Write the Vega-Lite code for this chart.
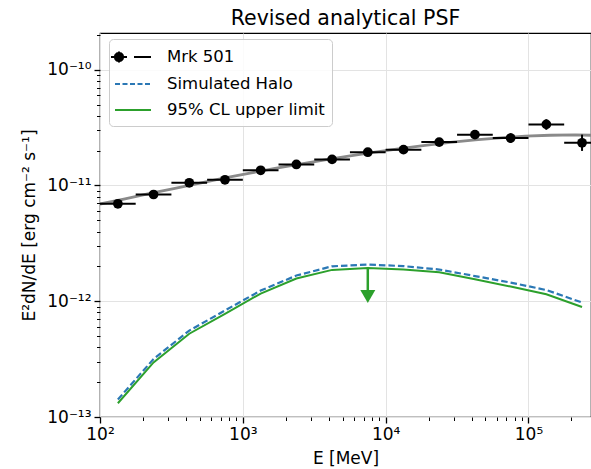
{
  "$schema": "https://vega.github.io/schema/vega-lite/v6.json",
  "autosize": "none",
  "width": 491,
  "height": 384,
  "padding": {"left": 100, "top": 33, "right": 0, "bottom": 52},
  "background": "white",
  "title": {"text": "Revised analytical PSF", "font": "DejaVu Sans", "fontSize": 20.5, "fontWeight": "normal", "color": "black", "anchor": "middle", "baseline": "bottom", "offset": 2, "dy": 26},
  "config": {
    "view": {"stroke": "black", "strokeWidth": 1.2},
    "axis": {"labelFont": "DejaVu Sans", "labelFontSize": 17, "labelColor": "black", "titleFont": "DejaVu Sans", "titleFontSize": 17, "titleFontWeight": "normal", "titleColor": "black", "tickColor": "black", "domain": false, "gridColor": "#e3e3e3", "gridWidth": 1, "labelOverlap": false, "labelFlush": false, "labelBound": false}
  },
  "datasets": {
    "pts": [
      {"E": 133.4, "Elo": 100, "Ehi": 177.8, "F": 6.95e-12, "Flo": 6.6e-12, "Fhi": 7.3e-12},
      {"E": 237.1, "Elo": 177.8, "Ehi": 316.2, "F": 8.36e-12, "Flo": 7.95e-12, "Fhi": 8.8e-12},
      {"E": 421.7, "Elo": 316.2, "Ehi": 562.3, "F": 1.055e-11, "Flo": 1.0e-11, "Fhi": 1.11e-11},
      {"E": 749.9, "Elo": 562.3, "Ehi": 1000, "F": 1.12e-11, "Flo": 1.06e-11, "Fhi": 1.18e-11},
      {"E": 1333.5, "Elo": 1000, "Ehi": 1778, "F": 1.353e-11, "Flo": 1.28e-11, "Fhi": 1.43e-11},
      {"E": 2371.4, "Elo": 1778, "Ehi": 3162, "F": 1.52e-11, "Flo": 1.44e-11, "Fhi": 1.61e-11},
      {"E": 4217, "Elo": 3162, "Ehi": 5623, "F": 1.68e-11, "Flo": 1.58e-11, "Fhi": 1.79e-11},
      {"E": 7499, "Elo": 5623, "Ehi": 10000, "F": 1.94e-11, "Flo": 1.82e-11, "Fhi": 2.07e-11},
      {"E": 13335, "Elo": 10000, "Ehi": 17783, "F": 2.04e-11, "Flo": 1.91e-11, "Fhi": 2.18e-11},
      {"E": 23714, "Elo": 17783, "Ehi": 31623, "F": 2.37e-11, "Flo": 2.2e-11, "Fhi": 2.55e-11},
      {"E": 42170, "Elo": 31623, "Ehi": 56234, "F": 2.75e-11, "Flo": 2.53e-11, "Fhi": 2.98e-11},
      {"E": 74989, "Elo": 56234, "Ehi": 100000, "F": 2.57e-11, "Flo": 2.33e-11, "Fhi": 2.83e-11},
      {"E": 133352, "Elo": 100000, "Ehi": 177828, "F": 3.37e-11, "Flo": 3.03e-11, "Fhi": 3.74e-11},
      {"E": 237137, "Elo": 177828, "Ehi": 316228, "F": 2.34e-11, "Flo": 1.99e-11, "Fhi": 2.75e-11}
    ],
    "model": [
      {"E": 100, "F": 6.92e-12}, {"E": 149.7, "F": 7.67e-12}, {"E": 224, "F": 8.53e-12},
      {"E": 335, "F": 9.46e-12}, {"E": 501, "F": 1.049e-11}, {"E": 750, "F": 1.161e-11},
      {"E": 1122, "F": 1.28e-11}, {"E": 1679, "F": 1.403e-11}, {"E": 2515, "F": 1.531e-11},
      {"E": 3764, "F": 1.665e-11}, {"E": 5634, "F": 1.803e-11}, {"E": 8432, "F": 1.944e-11},
      {"E": 12620, "F": 2.085e-11}, {"E": 18890, "F": 2.222e-11}, {"E": 28270, "F": 2.355e-11},
      {"E": 42310, "F": 2.475e-11}, {"E": 63320, "F": 2.582e-11}, {"E": 94770, "F": 2.666e-11},
      {"E": 141800, "F": 2.718e-11}, {"E": 212000, "F": 2.735e-11}, {"E": 274000, "F": 2.718e-11}
    ],
    "halo": [
      {"E": 133.4, "F": 1.416e-13}, {"E": 237.1, "F": 3.17e-13}, {"E": 421.7, "F": 5.58e-13},
      {"E": 749.9, "F": 8.32e-13}, {"E": 1333.5, "F": 1.236e-12}, {"E": 2371.4, "F": 1.667e-12},
      {"E": 4217, "F": 2.005e-12}, {"E": 7499, "F": 2.073e-12}, {"E": 13335, "F": 2.012e-12},
      {"E": 23714, "F": 1.879e-12}, {"E": 42170, "F": 1.651e-12}, {"E": 74989, "F": 1.45e-12},
      {"E": 133352, "F": 1.25e-12}, {"E": 237137, "F": 9.75e-13}
    ],
    "ul": [
      {"E": 133.4, "F": 1.315e-13}, {"E": 237.1, "F": 2.96e-13}, {"E": 421.7, "F": 5.24e-13},
      {"E": 749.9, "F": 7.78e-13}, {"E": 1333.5, "F": 1.166e-12}, {"E": 2371.4, "F": 1.57e-12},
      {"E": 4217, "F": 1.866e-12}, {"E": 7499, "F": 1.942e-12}, {"E": 13335, "F": 1.878e-12},
      {"E": 23714, "F": 1.783e-12}, {"E": 42170, "F": 1.549e-12}, {"E": 74989, "F": 1.34e-12},
      {"E": 133352, "F": 1.148e-12}, {"E": 237137, "F": 8.91e-13}
    ],
    "arrow": [
      {"E": 7499, "F": 1.942e-12, "Fshaft": 1.2e-12, "Fhead": 1.1e-12}
    ]
  },
  "encoding": {
    "x": {"field": "E", "type": "quantitative",
      "scale": {"type": "log", "domain": [100, 274000], "nice": false, "zero": false},
      "axis": {"title": "E [MeV]", "titlePadding": 8,
        "values": [100, 200, 300, 400, 500, 600, 700, 800, 900, 1000, 2000, 3000, 4000, 5000, 6000, 7000, 8000, 9000, 10000, 20000, 30000, 40000, 50000, 60000, 70000, 80000, 90000, 100000, 200000],
        "labelExpr": "datum.value == 100 ? '10²' : datum.value == 1000 ? '10³' : datum.value == 10000 ? '10⁴' : datum.value == 100000 ? '10⁵' : ''",
        "labelPadding": 3,
        "tickSize": {"condition": {"test": "indexof([100, 1000, 10000, 100000], datum.value) >= 0", "value": 6}, "value": 3.5},
        "tickWidth": {"condition": {"test": "indexof([100, 1000, 10000, 100000], datum.value) >= 0", "value": 1.3}, "value": 1},
        "gridOpacity": {"condition": {"test": "indexof([100, 1000, 10000, 100000], datum.value) >= 0", "value": 1}, "value": 0}
      }
    },
    "y": {"field": "F", "type": "quantitative",
      "scale": {"type": "log", "domain": [1e-13, 2.077e-10], "nice": false, "zero": false},
      "axis": {"title": "E²dN/dE [erg cm⁻² s⁻¹]", "titlePadding": 8,
        "values": [1e-13, 2e-13, 3e-13, 4e-13, 5e-13, 6e-13, 7e-13, 8e-13, 9e-13, 1e-12, 2e-12, 3e-12, 4e-12, 5e-12, 6e-12, 7e-12, 8e-12, 9e-12, 1e-11, 2e-11, 3e-11, 4e-11, 5e-11, 6e-11, 7e-11, 8e-11, 9e-11, 1e-10, 2e-10],
        "labelExpr": "datum.value == 1e-13 ? '10⁻¹³' : datum.value == 1e-12 ? '10⁻¹²' : datum.value == 1e-11 ? '10⁻¹¹' : datum.value == 1e-10 ? '10⁻¹⁰' : ''",
        "labelPadding": 3,
        "tickSize": {"condition": {"test": "indexof([1e-13, 1e-12, 1e-11, 1e-10], datum.value) >= 0", "value": 6}, "value": 3.5},
        "tickWidth": {"condition": {"test": "indexof([1e-13, 1e-12, 1e-11, 1e-10], datum.value) >= 0", "value": 1.3}, "value": 1},
        "gridOpacity": {"condition": {"test": "indexof([1e-13, 1e-12, 1e-11, 1e-10], datum.value) >= 0", "value": 1}, "value": 0}
      }
    }
  },
  "layer": [
    {"data": {"name": "model"}, "mark": {"type": "line", "color": "#8a8a8a", "strokeWidth": 2.8, "clip": true}},
    {"data": {"name": "halo"}, "mark": {"type": "line", "strokeWidth": 2.2, "strokeDash": [6.5, 3]},
      "encoding": {"color": {"datum": "Simulated Halo", "type": "nominal",
        "scale": {"domain": ["Mrk 501", "Simulated Halo", "95% CL upper limit"], "range": ["black", "#2b78b5", "#2ca02c"]},
        "legend": {
          "title": null, "orient": "none", "legendX": 9, "legendY": 6,
          "padding": 7, "rowPadding": 6, "symbolSize": 400, "symbolStrokeWidth": 2, "symbolType": "stroke",
          "labelFont": "DejaVu Sans", "labelFontSize": 16.5, "labelColor": "black", "labelOffset": 29, "labelLimit": 300,
          "strokeColor": "#cccccc", "fillColor": "rgba(255,255,255,0.85)", "cornerRadius": 4,
          "encode": {"symbols": {"update": {
            "shape": {"signal": "datum.value == 'Mrk 501' ? 'M-1.6,0L0,0M-0.8,-0.55L-0.8,0.55M-0.38,0L-0.436,0.21L-0.59,0.364L-0.8,0.42L-1.01,0.364L-1.164,0.21L-1.22,0L-1.164,-0.21L-1.01,-0.364L-0.8,-0.42L-0.59,-0.364L-0.436,-0.21ZM0.7,0L2.4,0' : 'M-1.2,0L2.4,0'"},
            "fill": {"signal": "datum.value == 'Mrk 501' ? 'black' : 'transparent'"},
            "stroke": {"signal": "datum.value == 'Mrk 501' ? 'black' : datum.value == 'Simulated Halo' ? '#2b78b5' : '#2ca02c'"},
            "strokeDash": {"signal": "datum.value == 'Simulated Halo' ? [5, 2.5] : [1, 0]"},
            "strokeWidth": {"value": 2},
            "opacity": {"value": 1}
          }}}
        }}}},
    {"data": {"name": "ul"}, "mark": {"type": "line", "strokeWidth": 2},
      "encoding": {"color": {"datum": "95% CL upper limit", "type": "nominal"}}},
    {"data": {"name": "arrow"}, "mark": {"type": "rule", "color": "#2ca02c", "strokeWidth": 2.5},
      "encoding": {"y2": {"field": "Fshaft"}}},
    {"data": {"name": "arrow"}, "mark": {"type": "point", "shape": "triangle-down", "filled": true, "color": "#2ca02c", "size": 225, "opacity": 1},
      "encoding": {"y": {"field": "Fhead", "type": "quantitative"}}},
    {"data": {"name": "pts"}, "mark": {"type": "rule", "color": "black", "strokeWidth": 2, "clip": true},
      "encoding": {"x": {"field": "Elo", "type": "quantitative"}, "x2": {"field": "Ehi"}}},
    {"data": {"name": "pts"}, "mark": {"type": "rule", "color": "black", "strokeWidth": 2},
      "encoding": {"y": {"field": "Flo", "type": "quantitative"}, "y2": {"field": "Fhi"}}},
    {"data": {"name": "pts"}, "mark": {"type": "point", "filled": true, "shape": "circle", "size": 95, "opacity": 1},
      "encoding": {"color": {"datum": "Mrk 501", "type": "nominal"}}}
  ]
}
